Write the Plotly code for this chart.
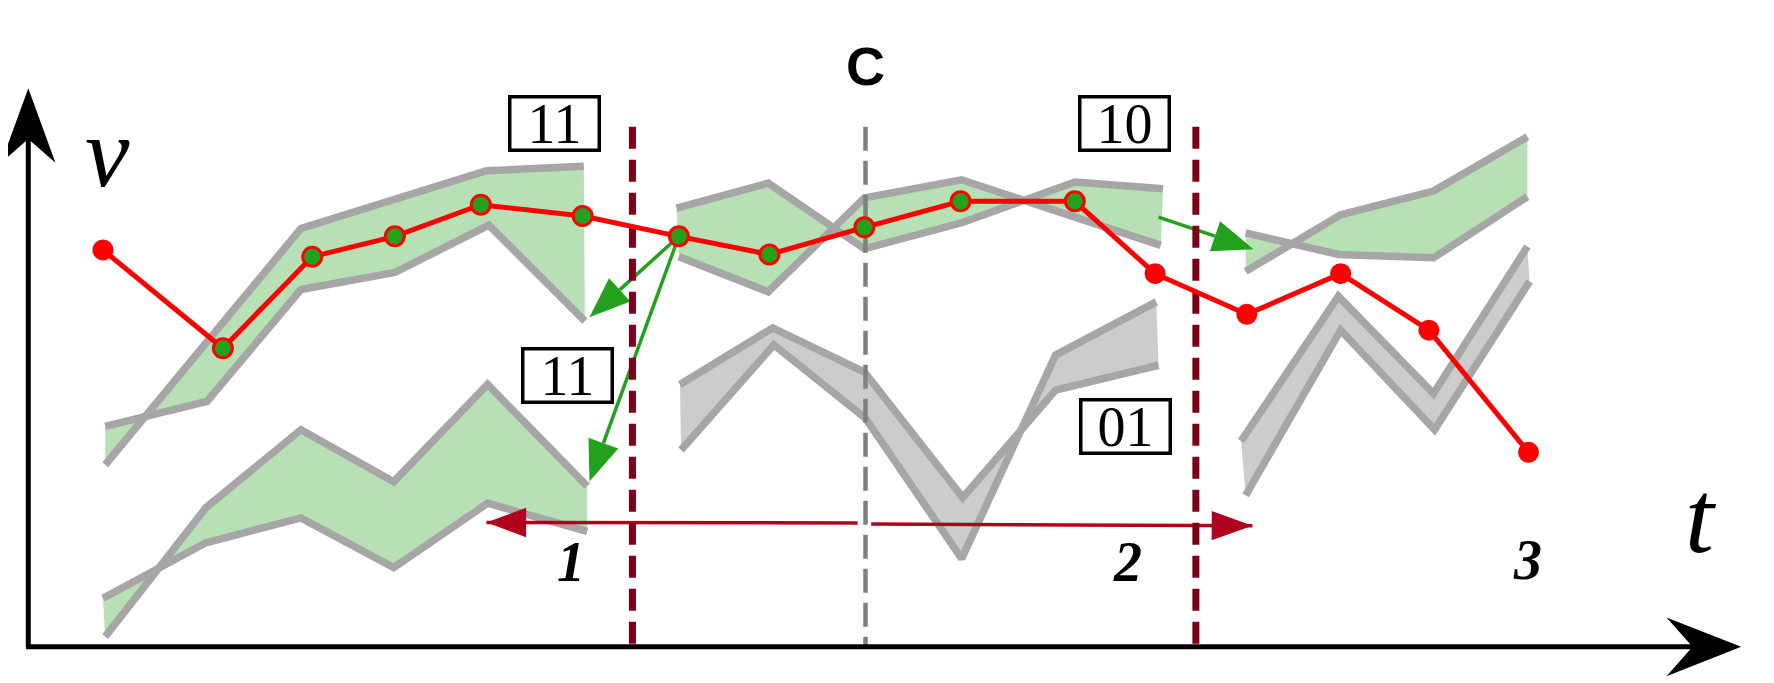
import math
import plotly.graph_objects as go

# ---------------- data (picture units: t to the right, v upward) ----------------
# page body has an 8 px margin; the figure is 8 px smaller and the ranges start 7.07 units in
T_RANGE = [7.07, 1568]
V_RANGE = [-32, 564.93]
FIG_W, FIG_H = 1766, 675

# red trajectory
red_t = [91, 197, 276, 349, 425, 515, 600, 680, 764, 849, 950, 1021, 1102, 1185, 1263, 1351]
red_v = [351, 264, 345, 363, 391, 381, 363, 347, 371, 394, 394, 330, 294, 330, 280, 172]
red_inside = [0, 1, 1, 1, 1, 1, 1, 1, 1, 1, 1, 0, 0, 0, 0, 0]

# bands (two boundary lines each)
bandA_t1 = [93, 266, 430, 516]
bandA_v1 = [161, 370, 421, 425]
bandA_t2 = [93, 183, 266, 349, 432, 517]
bandA_v2 = [195, 217, 316, 331, 373, 288]

bandB_t1 = [93, 182, 266, 348, 431, 519]
bandB_v1 = [9, 123, 192, 146, 232, 142]
bandB_t2 = [91, 182, 266, 348, 431, 519]
bandB_v2 = [43, 92, 114, 70, 127, 102]

bandC_t1 = [598, 679, 764, 850, 950, 1028]
bandC_v1 = [388, 410, 352, 375, 411, 405]
bandC_t2 = [600, 679, 764, 850, 1026]
bandC_v2 = [345, 314, 397, 413, 355]

bandD_t1 = [601, 683, 764, 851, 933, 1024]
bandD_v1 = [232, 282, 243, 132, 227, 249]
bandD_t2 = [602, 684, 765, 850, 933, 1022]
bandD_v2 = [174, 267, 202, 78, 258, 305]

bandE_t1 = [1101, 1183, 1267, 1350]
bandE_v1 = [366, 347, 344, 398]
bandE_t2 = [1101, 1185, 1267, 1350]
bandE_v2 = [332, 382, 403, 451]

bandF_t1 = [1097, 1183, 1267, 1350]
bandF_v1 = [182, 310, 224, 354]
bandF_t2 = [1101, 1185, 1268, 1352]
bandF_v2 = [134, 280, 192, 323]

# separators
sep_t = [559, 1057]
center_t = 765
sep_top_v = 460

# red double arrow (left tip, gap start, gap end, right tip)
span_t = [430, 758, 770, 1107]
span_v = [110, 109.5, 108.5, 107]

# green arrows
garrow_t0 = [600, 600, 1024]
garrow_v0 = [363, 363, 380]
garrow_t1 = [521, 521, 1108]
garrow_v1 = [291.5, 146.3, 351.6]

# boxed codes
box_labels = ["11", "11", "10", "01"]
box_t = [490, 502, 994, 995]
box_v = [463, 240, 463, 195]

# region numbers
region_labels = ["1", "2", "3"]
region_t = [505, 997, 1350]
region_v = [75, 75, 77]

# axes
axis_t0 = 25
axis_v_top = 494
axis_t_end = 1539

# ---------------- styles ----------------
GREEN_FILL = "#b7e0b5"
GRAY_FILL = "#cccccc"
GRAY_LINE = "#a6a6a6"
RED = "#ff0000"
GREEN = "#23a11d"
MAROON = "#7f0019"
CRIMSON = "#b0001e"

fig = go.Figure()


def band(t1, v1, t2, v2, fill):
    fig.add_trace(go.Scatter(x=t1 + t2[::-1], y=v1 + v2[::-1], mode="lines",
                             fill="toself", fillcolor=fill, line=dict(width=0),
                             hoverinfo="skip"))


def band_lines(t1, v1, t2, v2):
    for tt, vv in ((t1, v1), (t2, v2)):
        fig.add_trace(go.Scatter(x=tt, y=vv, mode="lines",
                                 line=dict(color=GRAY_LINE, width=7.5), hoverinfo="skip"))


def head(x0, y0, x1, y1, length, half, notch=0.0):
    d = math.hypot(x1 - x0, y1 - y0)
    ux, uy = (x1 - x0) / d, (y1 - y0) / d
    px, py = -uy, ux
    bx, by = x1 - ux * length, y1 - uy * length
    nx, ny = x1 - ux * (length - notch), y1 - uy * (length - notch)
    xs = [x1, bx + px * half, nx, bx - px * half, x1]
    ys = [y1, by + py * half, ny, by - py * half, y1]
    return xs, ys


def filled(xs, ys, color):
    fig.add_trace(go.Scatter(x=xs, y=ys, mode="lines", fill="toself", fillcolor=color,
                             line=dict(width=0, color=color), hoverinfo="skip"))


bands = [
    (bandA_t1, bandA_v1, bandA_t2, bandA_v2, GREEN_FILL),
    (bandB_t1, bandB_v1, bandB_t2, bandB_v2, GREEN_FILL),
    (bandC_t1, bandC_v1, bandC_t2, bandC_v2, GREEN_FILL),
    (bandD_t1, bandD_v1, bandD_t2, bandD_v2, GRAY_FILL),
    (bandE_t1, bandE_v1, bandE_t2, bandE_v2, GREEN_FILL),
    (bandF_t1, bandF_v1, bandF_t2, bandF_v2, GRAY_FILL),
]
for b in bands:
    band(*b)
for b in bands:
    band_lines(*b[:4])

# red double arrow
fig.add_trace(go.Scatter(x=span_t[:2], y=span_v[:2], mode="lines",
                         line=dict(color=CRIMSON, width=3.5), hoverinfo="skip"))
fig.add_trace(go.Scatter(x=span_t[2:], y=span_v[2:], mode="lines",
                         line=dict(color=CRIMSON, width=3.5), hoverinfo="skip"))
filled(*head(span_t[1], span_v[1], span_t[0], span_v[0], 35, 13), CRIMSON)
filled(*head(span_t[2], span_v[2], span_t[3], span_v[3], 36, 13), CRIMSON)

# green arrows
for t0, v0, t1, v1 in zip(garrow_t0, garrow_v0, garrow_t1, garrow_v1):
    xs, ys = head(t0, v0, t1, v1, 36, 14)
    bx = (xs[1] + xs[3]) / 2
    by = (ys[1] + ys[3]) / 2
    fig.add_trace(go.Scatter(x=[t0, bx], y=[v0, by], mode="lines",
                             line=dict(color=GREEN, width=3.5), hoverinfo="skip"))
    filled(xs, ys, GREEN)

# separators
for st in sep_t:
    fig.add_trace(go.Scatter(x=[st, st], y=[sep_top_v, 0], mode="lines",
                             line=dict(color=MAROON, width=7, dash="22px,11px"),
                             hoverinfo="skip"))
fig.add_trace(go.Scatter(x=[center_t, center_t], y=[sep_top_v, 0], mode="lines",
                         line=dict(color="#808080", width=4.5, dash="24px,10px"),
                         hoverinfo="skip"))

# red trajectory
fig.add_trace(go.Scatter(x=red_t, y=red_v, mode="lines",
                         line=dict(color=RED, width=5), hoverinfo="skip"))
fig.add_trace(go.Scatter(
    x=[t for t, k in zip(red_t, red_inside) if not k],
    y=[v for v, k in zip(red_v, red_inside) if not k],
    mode="markers", marker=dict(color=RED, size=21, line=dict(width=0)), hoverinfo="skip"))
fig.add_trace(go.Scatter(
    x=[t for t, k in zip(red_t, red_inside) if k],
    y=[v for v, k in zip(red_v, red_inside) if k],
    mode="markers", marker=dict(color=GREEN, size=19, line=dict(color=RED, width=3)),
    hoverinfo="skip"))

# axes with barbed arrowheads
fig.add_trace(go.Scatter(x=[axis_t0, axis_t0], y=[0, axis_v_top - 40], mode="lines",
                         line=dict(color="black", width=5), hoverinfo="skip"))
fig.add_trace(go.Scatter(x=[axis_t0 - 2, axis_t_end - 40], y=[0, 0], mode="lines",
                         line=dict(color="black", width=5), hoverinfo="skip"))
filled(*head(axis_t0, 0, axis_t0, axis_v_top, 66, 24, 21), "black")
filled(*head(axis_t0, 0, axis_t_end, 0, 66, 26, 23), "black")

annotations = []
for lab, bt, bv in zip(box_labels, box_t, box_v):
    annotations.append(dict(x=bt, y=bv, xref="x", yref="y", text=lab, showarrow=False,
                            font=dict(family="Liberation Serif", size=56, color="black"),
                            bordercolor="black", borderwidth=3.5, borderpad=0,
                            bgcolor="white", width=86, height=50))
for lab, rt, rv in zip(region_labels, region_t, region_v):
    annotations.append(dict(x=rt, y=rv, xref="x", yref="y", text=f"<i><b>{lab}</b></i>",
                            showarrow=False,
                            font=dict(family="Liberation Serif", size=56, color="black")))
annotations.append(dict(x=center_t, y=514, xref="x", yref="y", text="<b>C</b>",
                        showarrow=False,
                        font=dict(family="Liberation Sans", size=54, color="black")))
annotations.append(dict(x=95, y=437, xref="x", yref="y", text="<i>v</i>", showarrow=False,
                        font=dict(family="Liberation Serif", size=100, color="black")))
annotations.append(dict(x=1503, y=115, xref="x", yref="y", text="<i>t</i>", showarrow=False,
                        font=dict(family="Liberation Serif", size=104, color="black")))

fig.update_layout(
    width=FIG_W, height=FIG_H,
    margin=dict(l=0, r=0, t=0, b=0),
    paper_bgcolor="white", plot_bgcolor="white",
    showlegend=False,
    xaxis=dict(range=T_RANGE, visible=False, fixedrange=True),
    yaxis=dict(range=V_RANGE, visible=False, fixedrange=True),
    annotations=annotations,
)

fig.write_html("out.html")
